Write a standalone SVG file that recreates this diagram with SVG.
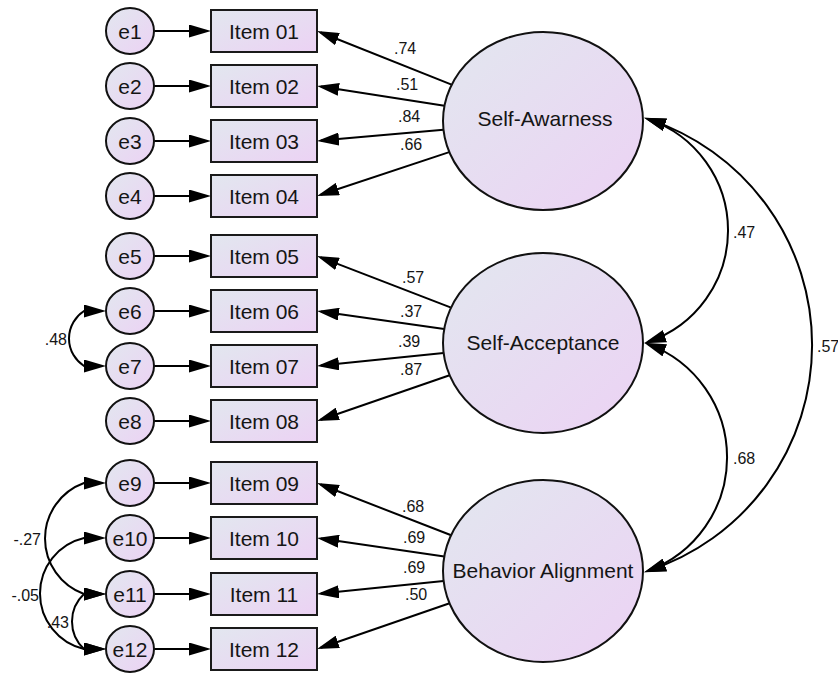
<svg xmlns="http://www.w3.org/2000/svg" width="838" height="673" viewBox="0 0 838 673">
<defs>
<linearGradient id="fill" x1="0" y1="0" x2="1" y2="1">
<stop offset="0" stop-color="#e2e7ef"/>
<stop offset="1" stop-color="#ecd2f4"/>
</linearGradient>
<marker id="ah" markerUnits="userSpaceOnUse" viewBox="0 0 22 13" refX="18" refY="6.5" markerWidth="22" markerHeight="13" orient="auto-start-reverse">
<path d="M0,0 L22,6.5 L0,13 z" fill="#000"/>
</marker>
<style>
.box{fill:url(#fill);stroke:#1a1a1a;stroke-width:2}
.lat{fill:url(#fill);stroke:#111;stroke-width:2}
.t{font-family:"Liberation Sans",Arial,sans-serif;font-size:21px;fill:#151515;text-anchor:middle}
.c{font-family:"Liberation Sans",Arial,sans-serif;font-size:16px;fill:#151515}
.e{text-anchor:end}
.ln{fill:none;stroke:#000;stroke-width:2;marker-end:url(#ah)}
.cv{fill:none;stroke:#000;stroke-width:2;marker-start:url(#ah);marker-end:url(#ah)}
</style>
</defs>
<rect width="838" height="673" fill="#fff"/>

<g id="connectors">
<path class="ln" d="M154,31 L207,31"/>
<path class="ln" d="M154,86 L207,86"/>
<path class="ln" d="M154,141 L207,141"/>
<path class="ln" d="M154,196 L207,196"/>
<path class="ln" d="M154,256 L207,256"/>
<path class="ln" d="M154,311 L207,311"/>
<path class="ln" d="M154,366 L207,366"/>
<path class="ln" d="M154,421 L207,421"/>
<path class="ln" d="M154,483 L207,483"/>
<path class="ln" d="M154,538 L207,538"/>
<path class="ln" d="M154,594 L207,594"/>
<path class="ln" d="M154,649 L207,649"/>
<path class="ln" d="M451.6,84.6 L320.7,32.5"/>
<path class="ln" d="M444.4,105.7 L321,86.6"/>
<path class="ln" d="M443.5,129.8 L321,140.6"/>
<path class="ln" d="M449.2,152.1 L320.8,194.7"/>
<path class="ln" d="M451.1,307.6 L320.7,257.4"/>
<path class="ln" d="M444.2,329 L321,311.6"/>
<path class="ln" d="M443.6,353.1 L321,365.6"/>
<path class="ln" d="M449.6,375.2 L320.8,419.7"/>
<path class="ln" d="M451.2,535.3 L320.7,484.5"/>
<path class="ln" d="M444.3,556.6 L321,538.6"/>
<path class="ln" d="M443.6,581.1 L321,593.6"/>
<path class="ln" d="M449.6,603.2 L320.8,647.7"/>
<path class="cv" d="M647.9,119.1 A117.5,117.5 0 0 1 647.9,341.9"/>
<path class="cv" d="M647.9,119.1 A237.5,237.5 0 0 1 647.9,570.9"/>
<path class="cv" d="M647.9,344.1 A120.8,120.8 0 0 1 647.9,570.9"/>
<path class="cv" d="M102,311 L84,311 A32.7,32.7 0 0 0 84,366 L102,366"/>
<path class="cv" d="M102,483 L84,483 A59,59 0 0 0 84,594 L102,594"/>
<path class="cv" d="M102,538 L84,538 A57,57 0 0 0 84,649 L102,649"/>
<path class="cv" d="M102,594 L84,594 A37.5,37.5 0 0 0 84,649 L102,649"/>
<text class="c" x="394" y="54">.74</text>
<text class="c" x="396" y="90">.51</text>
<text class="c" x="398" y="122">.84</text>
<text class="c" x="400" y="150">.66</text>
<text class="c" x="402" y="283">.57</text>
<text class="c" x="400" y="317">.37</text>
<text class="c" x="398" y="347">.39</text>
<text class="c" x="400" y="375">.87</text>
<text class="c" x="402" y="512">.68</text>
<text class="c" x="403" y="543">.69</text>
<text class="c" x="403" y="573">.69</text>
<text class="c" x="405" y="600">.50</text>
<text class="c" x="733" y="238">.47</text>
<text class="c" x="817" y="352">.57</text>
<text class="c" x="733" y="464">.68</text>
<text class="c e" x="67" y="345">.48</text>
<text class="c e" x="41" y="545">-.27</text>
<text class="c e" x="39" y="601">-.05</text>
<text class="c e" x="69" y="628">.43</text>
</g>

<g id="e1"><ellipse class="lat" cx="130" cy="31" rx="24" ry="23"/><text class="t" x="130" y="38.5">e1</text></g>
<g id="e2"><ellipse class="lat" cx="130" cy="86" rx="24" ry="23"/><text class="t" x="130" y="93.5">e2</text></g>
<g id="e3"><ellipse class="lat" cx="130" cy="141" rx="24" ry="23"/><text class="t" x="130" y="148.5">e3</text></g>
<g id="e4"><ellipse class="lat" cx="130" cy="196" rx="24" ry="23"/><text class="t" x="130" y="203.5">e4</text></g>
<g id="e5"><ellipse class="lat" cx="130" cy="256" rx="24" ry="23"/><text class="t" x="130" y="263.5">e5</text></g>
<g id="e6"><ellipse class="lat" cx="130" cy="311" rx="24" ry="23"/><text class="t" x="130" y="318.5">e6</text></g>
<g id="e7"><ellipse class="lat" cx="130" cy="366" rx="24" ry="23"/><text class="t" x="130" y="373.5">e7</text></g>
<g id="e8"><ellipse class="lat" cx="130" cy="421" rx="24" ry="23"/><text class="t" x="130" y="428.5">e8</text></g>
<g id="e9"><ellipse class="lat" cx="130" cy="483" rx="24" ry="23"/><text class="t" x="130" y="490.5">e9</text></g>
<g id="e10"><ellipse class="lat" cx="130" cy="538" rx="24" ry="23"/><text class="t" x="130" y="545.5">e10</text></g>
<g id="e11"><ellipse class="lat" cx="130" cy="594" rx="24" ry="23"/><text class="t" x="130" y="601.5">e11</text></g>
<g id="e12"><ellipse class="lat" cx="130" cy="649" rx="24" ry="23"/><text class="t" x="130" y="656.5">e12</text></g>

<g id="item01"><rect class="box" x="211" y="10" width="106" height="42"/><text class="t" x="264" y="38.5">Item 01</text></g>
<g id="item02"><rect class="box" x="211" y="65" width="106" height="42"/><text class="t" x="264" y="93.5">Item 02</text></g>
<g id="item03"><rect class="box" x="211" y="120" width="106" height="42"/><text class="t" x="264" y="148.5">Item 03</text></g>
<g id="item04"><rect class="box" x="211" y="175" width="106" height="42"/><text class="t" x="264" y="203.5">Item 04</text></g>
<g id="item05"><rect class="box" x="211" y="235" width="106" height="42"/><text class="t" x="264" y="263.5">Item 05</text></g>
<g id="item06"><rect class="box" x="211" y="290" width="106" height="42"/><text class="t" x="264" y="318.5">Item 06</text></g>
<g id="item07"><rect class="box" x="211" y="345" width="106" height="42"/><text class="t" x="264" y="373.5">Item 07</text></g>
<g id="item08"><rect class="box" x="211" y="400" width="106" height="42"/><text class="t" x="264" y="428.5">Item 08</text></g>
<g id="item09"><rect class="box" x="211" y="462" width="106" height="42"/><text class="t" x="264" y="490.5">Item 09</text></g>
<g id="item10"><rect class="box" x="211" y="517" width="106" height="42"/><text class="t" x="264" y="545.5">Item 10</text></g>
<g id="item11"><rect class="box" x="211" y="573" width="106" height="42"/><text class="t" x="264" y="601.5">Item 11</text></g>
<g id="item12"><rect class="box" x="211" y="628" width="106" height="42"/><text class="t" x="264" y="656.5">Item 12</text></g>

<g id="self-awareness"><ellipse class="lat" cx="543" cy="121" rx="100" ry="89"/><text class="t" x="545" y="126">Self-Awarness</text></g>
<g id="self-acceptance"><ellipse class="lat" cx="543" cy="343" rx="100" ry="90"/><text class="t" x="543" y="350">Self-Acceptance</text></g>
<g id="behavior-alignment"><ellipse class="lat" cx="543" cy="571" rx="100" ry="91"/><text class="t" x="543" y="578">Behavior Alignment</text></g>
</svg>
